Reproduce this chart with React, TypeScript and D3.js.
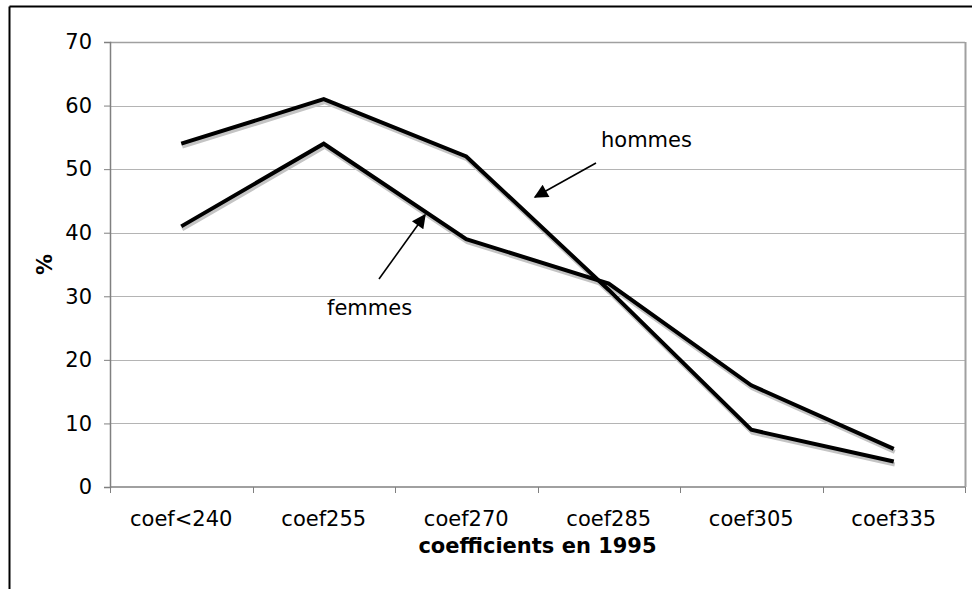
import React, {useEffect, useRef} from 'react';
import * as d3 from 'd3';

// categories along the x axis
const categories = ['coef<240', 'coef255', 'coef270', 'coef285', 'coef305', 'coef335'];
// series values in %
const hommes = [54, 61, 52, 31, 9, 4];
const femmes = [41, 54, 39, 32, 16, 6];
const yTicks = [0, 10, 20, 30, 40, 50, 60, 70];

const App: React.FC = () => {
  const svgRef = useRef<SVGSVGElement>(null);

  useEffect(() => {
    const svg = d3.select(svgRef.current);
    svg.selectAll('*').remove();
    const font = 'DejaVu Sans, Verdana, sans-serif';
    const fs = 21;

    const margin = {top: 42, right: 7, bottom: 102, left: 110};
    const width = 972 - margin.left - margin.right;
    const height = 589 - margin.top - margin.bottom;

    // outer frame (top and left only visible)
    svg.append('line').attr('x1', 9.5).attr('x2', 972).attr('y1', 6.5).attr('y2', 6.5)
      .attr('stroke', '#000').attr('stroke-width', 2);
    svg.append('line').attr('x1', 9.5).attr('x2', 9.5).attr('y1', 6.5).attr('y2', 589)
      .attr('stroke', '#000').attr('stroke-width', 2);

    const g = svg.append('g').attr('transform', `translate(${margin.left},${margin.top})`);

    const x = d3.scaleBand().domain(categories).range([0, width]);
    const y = d3.scaleLinear().domain([0, 70]).range([height, 0]);

    // gridlines
    g.append('g')
      .selectAll('line')
      .data(yTicks.filter((d) => d > 0))
      .enter()
      .append('line')
      .attr('x1', 0)
      .attr('x2', width)
      .attr('y1', (d) => Math.round(y(d)) + 0.5)
      .attr('y2', (d) => Math.round(y(d)) + 0.5)
      .attr('stroke', (d) => (d === 70 ? '#a0a0a0' : '#b4b4b4'))
      .attr('stroke-width', (d) => (d === 70 ? 1.5 : 1));

    // right border of plot area
    g.append('line').attr('x1', width + 0.5).attr('x2', width + 0.5).attr('y1', 0).attr('y2', height)
      .attr('stroke', '#a0a0a0').attr('stroke-width', 2);

    // y axis
    const yAxis = g.append('g')
      .call(d3.axisLeft(y).tickValues(yTicks).tickSize(6).tickPadding(12));
    yAxis.select('.domain').attr('stroke', '#808080').attr('stroke-width', 1.5);
    yAxis.selectAll('.tick line').attr('stroke', '#808080');
    yAxis.selectAll('text').attr('font-family', font).attr('font-size', fs).attr('fill', '#000');

    // x axis with ticks at category boundaries
    const xAxisG = g.append('g').attr('transform', `translate(0,${height})`);
    xAxisG.append('line').attr('x1', 0).attr('x2', width).attr('y1', 0).attr('y2', 0)
      .attr('stroke', '#808080').attr('stroke-width', 1.5);
    xAxisG.selectAll('.bt')
      .data(d3.range(categories.length + 1))
      .enter()
      .append('line')
      .attr('x1', (i) => Math.round(i * x.bandwidth()) + 0.5)
      .attr('x2', (i) => Math.round(i * x.bandwidth()) + 0.5)
      .attr('y1', 0)
      .attr('y2', 6)
      .attr('stroke', '#808080');
    xAxisG.selectAll('.lbl')
      .data(categories)
      .enter()
      .append('text')
      .attr('x', (d) => x(d)! + x.bandwidth() / 2)
      .attr('y', 39)
      .attr('text-anchor', 'middle')
      .attr('font-family', font)
      .attr('font-size', fs)
      .text((d) => d);

    // axis titles
    g.append('text')
      .attr('x', width / 2)
      .attr('y', height + 66)
      .attr('text-anchor', 'middle')
      .attr('font-family', font)
      .attr('font-weight', 'bold')
      .attr('font-size', fs)
      .text('coefficients en 1995');
    g.append('text')
      .attr('transform', `translate(${52 - margin.left},${height / 2}) rotate(-90)`)
      .attr('text-anchor', 'middle')
      .attr('font-family', font)
      .attr('font-weight', 'bold')
      .attr('font-size', fs)
      .text('%');

    // lines with drop shadow
    const line = d3.line<number>()
      .x((d, i) => x(categories[i])! + x.bandwidth() / 2)
      .y((d) => y(d));
    [hommes, femmes].forEach((serie) => {
      g.append('path')
        .attr('d', line(serie))
        .attr('transform', 'translate(1,3)')
        .attr('fill', 'none')
        .attr('stroke', '#c4c4c4')
        .attr('stroke-width', 4);
    });
    [hommes, femmes].forEach((serie) => {
      g.append('path')
        .attr('d', line(serie))
        .attr('fill', 'none')
        .attr('stroke', '#000')
        .attr('stroke-width', 4)
        .attr('stroke-linejoin', 'miter');
    });

    // annotations with arrows
    const defs = svg.append('defs');
    defs.append('marker')
      .attr('id', 'arrow')
      .attr('viewBox', '0 0 10 10')
      .attr('refX', 9)
      .attr('refY', 5)
      .attr('markerWidth', 18)
      .attr('markerHeight', 14)
      .attr('markerUnits', 'userSpaceOnUse')
      .attr('orient', 'auto')
      .append('path')
      .attr('d', 'M0,0 L10,5 L0,10 z')
      .attr('fill', '#000');

    const notes = [
      {text: 'hommes', tx: 601, ty: 147, x1: 596, y1: 163, x2: 535, y2: 197},
      {text: 'femmes', tx: 327, ty: 315, x1: 379, y1: 279, x2: 425, y2: 215},
    ];
    notes.forEach((n) => {
      svg.append('text')
        .attr('x', n.tx)
        .attr('y', n.ty)
        .attr('font-family', font)
        .attr('font-size', fs)
        .text(n.text);
      svg.append('line')
        .attr('x1', n.x1)
        .attr('y1', n.y1)
        .attr('x2', n.x2)
        .attr('y2', n.y2)
        .attr('stroke', '#000')
        .attr('stroke-width', 1.6)
        .attr('marker-end', 'url(#arrow)');
    });
  }, []);

  return (
    <div style={{position: 'absolute', left: 0, top: 0}}>
      <svg ref={svgRef} width={972} height={589} style={{display: 'block', background: '#fff'}}></svg>
    </div>
  );
};

export default App;
